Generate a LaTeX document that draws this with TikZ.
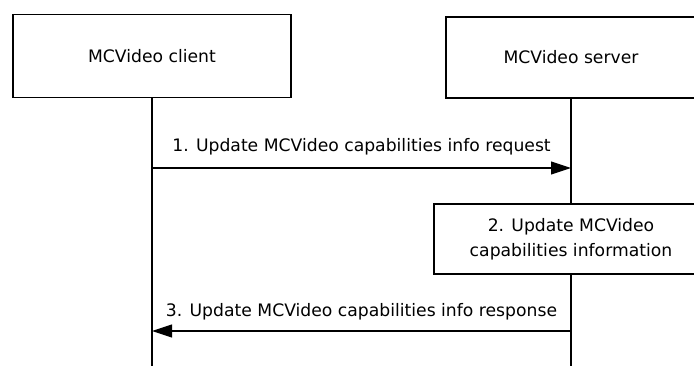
\documentclass[tikz,border=0pt]{standalone}
\usepackage{fontspec}
\setmainfont{DejaVu Sans}
\usetikzlibrary{positioning,arrows.meta}
\tikzset{
  actor/.style={rectangle, draw=black, fill=white, line width=1.1pt,
                font=\fontsize{17.2}{25}\selectfont, align=center, inner sep=0pt},
  life/.style={draw=black, line width=1.1pt},
  msg/.style={-{Triangle[length=20pt,width=13pt]}, line width=1.1pt},
  lbl/.style={font=\fontsize{17.2}{20}\selectfont, inner sep=0pt},
}
\begin{document}
\begin{tikzpicture}[x=1pt,y=-1pt]
  \useasboundingbox (0,0) rectangle (694,365);
  \clip (0,0) rectangle (694,365);

  \node[actor, minimum width=278pt, minimum height=83pt] (cli) at (152,56) {MCVideo client};
  \node[actor, minimum width=250pt, minimum height=81pt] (srv) at (571,57.5) {MCVideo server};

  \coordinate (cliend) at (cli.south |- 0,368);
  \coordinate (srvend) at (srv.south |- 0,368);

  % lifelines
  \draw[life] (cli.south) -- (cliend);
  \draw[life] (srv.south) -- (srvend);

  \node[actor, minimum width=274pt, minimum height=70pt] (upd) at (571,239) {2. Update MCVideo\\capabilities information};

  \coordinate (m1c) at (cli.south |- 0,168);
  \coordinate (m1s) at (srv.south |- 0,168);
  \coordinate (m3c) at (cli.south |- 0,331);
  \coordinate (m3s) at (srv.south |- 0,331);

  \draw[msg] (m1c) -- (m1s) node[lbl, midway, above=12pt] {1. Update MCVideo capabilities info request};
  \draw[msg] (m3s) -- (m3c) node[lbl, midway, above=10pt] {3. Update MCVideo capabilities info response};
\end{tikzpicture}
\end{document}
